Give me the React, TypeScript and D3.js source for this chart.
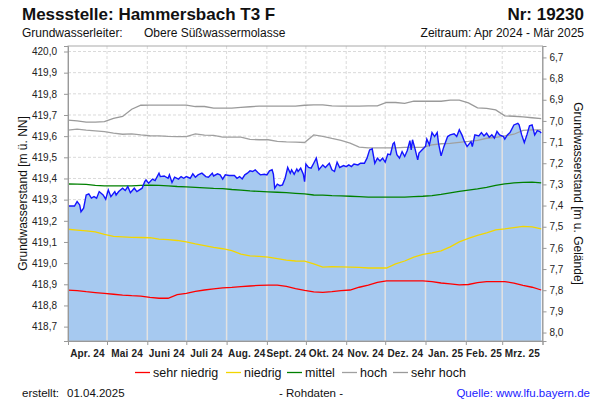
import React, { useEffect, useRef } from 'react';
import * as d3 from 'd3';

// Zeitraum und Geländehöhe
const START = new Date(2024, 3, 1);
const ENDE = new Date(2025, 3, 1);
const gelaende = 426.672;

const monatsLabels = ['Apr. 24', 'Mai 24', 'Juni 24', 'Juli 24', 'Aug. 24', 'Sept. 24', 'Okt. 24', 'Nov. 24', 'Dez. 24', 'Jan. 25', 'Feb. 25', 'Mrz. 25'];
const yTicks = [418.7, 418.8, 418.9, 419.0, 419.1, 419.2, 419.3, 419.4, 419.5, 419.6, 419.7, 419.8, 419.9, 420.0];
const yTicksRechts = [6.7, 6.8, 6.9, 7.0, 7.1, 7.2, 7.3, 7.4, 7.5, 7.6, 7.7, 7.8, 7.9, 8.0];

// Kennlinien, wöchentlich ab 01.04.2024
const sehrHoch = [419.676, 419.672, 419.666, 419.666, 419.669, 419.684, 419.693, 419.727, 419.746, 419.747,
  419.747, 419.747, 419.747, 419.747, 419.740, 419.740, 419.732, 419.732, 419.732, 419.736,
  419.739, 419.742, 419.742, 419.742, 419.742, 419.742, 419.746, 419.748, 419.748, 419.743,
  419.742, 419.742, 419.742, 419.743, 419.743, 419.759, 419.759, 419.755, 419.765, 419.765,
  419.765, 419.765, 419.770, 419.770, 419.757, 419.734, 419.731, 419.724, 419.696, 419.694,
  419.691, 419.687, 419.683];
const hoch = [419.628, 419.633, 419.628, 419.625, 419.621, 419.614, 419.609, 419.611, 419.606, 419.602,
  419.601, 419.599, 419.598, 419.598, 419.611, 419.605, 419.604, 419.595, 419.595, 419.595,
  419.585, 419.583, 419.583, 419.575, 419.573, 419.572, 419.570, 419.606, 419.599, 419.589,
  419.580, 419.567, 419.548, 419.545, 419.545, 419.545, 419.545, 419.547, 419.547, 419.547,
  419.559, 419.564, 419.566, 419.571, 419.575, 419.580, 419.590, 419.594, 419.601, 419.609,
  419.627, 419.630, 419.630];
const mittel = [419.374, 419.373, 419.372, 419.367, 419.365, 419.365, 419.365, 419.365, 419.367, 419.368,
  419.367, 419.365, 419.362, 419.360, 419.358, 419.356, 419.353, 419.352, 419.348, 419.345,
  419.341, 419.339, 419.337, 419.335, 419.333, 419.330, 419.327, 419.322, 419.321, 419.319,
  419.318, 419.316, 419.314, 419.312, 419.312, 419.312, 419.312, 419.312, 419.314, 419.316,
  419.319, 419.325, 419.332, 419.339, 419.345, 419.351, 419.358, 419.367, 419.374, 419.379,
  419.382, 419.383, 419.379];
const niedrig = [419.160, 419.156, 419.152, 419.148, 419.136, 419.126, 419.124, 419.122, 419.121, 419.120,
  419.113, 419.111, 419.107, 419.100, 419.091, 419.083, 419.074, 419.068, 419.059, 419.043,
  419.034, 419.032, 419.028, 419.021, 419.014, 419.010, 419.009, 418.996, 418.981, 418.983,
  418.982, 418.981, 418.980, 418.977, 418.977, 418.977, 418.996, 419.010, 419.028, 419.041,
  419.048, 419.058, 419.077, 419.100, 419.117, 419.131, 419.143, 419.157, 419.162, 419.168,
  419.174, 419.171, 419.162];
const sehrNiedrig = [418.872, 418.870, 418.865, 418.861, 418.857, 418.853, 418.849, 418.846, 418.844, 418.838,
  418.834, 418.834, 418.851, 418.857, 418.866, 418.873, 418.878, 418.883, 418.885, 418.889,
  418.892, 418.895, 418.896, 418.896, 418.890, 418.879, 418.871, 418.864, 418.862, 418.865,
  418.870, 418.873, 418.886, 418.896, 418.909, 418.916, 418.916, 418.916, 418.916, 418.916,
  418.913, 418.906, 418.902, 418.897, 418.899, 418.908, 418.913, 418.913, 418.913, 418.906,
  418.895, 418.886, 418.873];

// Messwerte (Tage seit 01.04.2024)
const messTage = [0, 5, 7, 9, 10, 12, 14, 16, 18, 20,
  22, 24, 27, 29, 31, 33, 36, 37, 39, 42,
  44, 46, 48, 51, 53, 55, 57, 59, 60, 62,
  65, 67, 70, 71, 74, 77, 78, 80, 82, 85,
  87, 89, 91, 94, 96, 98, 100, 103, 106, 108,
  111, 112, 115, 117, 119, 121, 124, 128, 130, 132,
  134, 136, 138, 140, 142, 144, 146, 148, 151, 153,
  155, 157, 158, 159, 161, 163, 165, 167, 169, 171,
  172, 174, 176, 177, 179, 181, 182, 183, 185, 187,
  189, 191, 193, 196, 198, 201, 203, 205, 207, 209,
  212, 214, 216, 218, 220, 223, 225, 228, 230, 232,
  234, 236, 238, 240, 242, 244, 246, 248, 250, 251,
  253, 255, 257, 259, 261, 263, 264, 265, 267, 269,
  270, 273, 275, 276, 278, 280, 282, 284, 285, 287,
  289, 292, 294, 297, 299, 301, 303, 305, 307, 310,
  311, 313, 316, 318, 320, 322, 324, 326, 328, 330,
  332, 335, 336, 338, 340, 343, 346, 347, 349, 351,
  353, 355, 357, 359, 361, 363, 364];
const messWerte = [419.270, 419.270, 419.291, 419.275, 419.243, 419.260, 419.322, 419.327, 419.307, 419.314,
  419.307, 419.338, 419.322, 419.302, 419.346, 419.314, 419.338, 419.322, 419.338, 419.354,
  419.343, 419.362, 419.333, 419.354, 419.338, 419.346, 419.354, 419.385, 419.393, 419.378,
  419.397, 419.390, 419.425, 419.409, 419.412, 419.401, 419.417, 419.381, 419.406, 419.397,
  419.409, 419.401, 419.409, 419.401, 419.422, 419.406, 419.417, 419.425, 419.409, 419.406,
  419.425, 419.412, 419.422, 419.417, 419.397, 419.417, 419.414, 419.414, 419.401, 419.409,
  419.398, 419.417, 419.425, 419.436, 419.433, 419.441, 419.428, 419.417, 419.420, 419.417,
  419.436, 419.441, 419.420, 419.354, 419.373, 419.366, 419.370, 419.401, 419.452, 419.425,
  419.441, 419.420, 419.445, 419.433, 419.449, 419.420, 419.385, 419.468, 419.452, 419.449,
  419.472, 419.496, 419.441, 419.464, 419.452, 419.472, 419.441, 419.433, 419.477, 419.452,
  419.461, 419.456, 419.464, 419.456, 419.468, 419.464, 419.472, 419.472, 419.496, 419.535,
  419.540, 419.472, 419.496, 419.483, 419.496, 419.477, 419.515, 419.512, 419.564, 419.570,
  419.512, 419.496, 419.527, 419.504, 419.532, 419.579, 419.535, 419.583, 419.539, 419.488,
  419.520, 419.539, 419.551, 419.586, 419.559, 419.617, 419.598, 419.617, 419.567, 419.507,
  419.548, 419.598, 419.606, 419.611, 419.598, 419.630, 419.606, 419.574, 419.551, 419.574,
  419.551, 419.606, 419.601, 419.617, 419.601, 419.614, 419.595, 419.606, 419.591, 419.622,
  419.606, 419.598, 419.586, 419.606, 419.617, 419.653, 419.661, 419.653, 419.606, 419.570,
  419.606, 419.649, 419.653, 419.606, 419.626, 419.622, 419.614];

const legendeNamen = ['sehr niedrig', 'niedrig', 'mittel', 'hoch', 'sehr hoch'];
const farben = ['#ff0000', '#f2d600', '#008000', '#a0a0a0', '#9a9a9a'];

const FONT = '"Liberation Sans", Arial, sans-serif';

const App = () => {
  const ref = useRef<SVGSVGElement>(null);

  useEffect(() => {
    const svg = d3.select(ref.current);
    svg.selectAll('*').remove();

    const left = 68, right = 542.5, top = 46, bottom = 341;
    const x = d3.scaleTime().domain([START, ENDE]).range([left, right]);
    const y = d3.scaleLinear().domain([418.632, 420.026]).range([bottom, top]);
    const yR = d3.scaleLinear().domain([gelaende - 418.632, gelaende - 420.026]).range([bottom, top]);
    const fmt = (d: number) => d3.format('.1f')(d).replace('.', ',');

    const wochen = d3.range(sehrHoch.length).map(i => d3.timeDay.offset(START, 7 * i));
    const monate = d3.timeMonth.range(START, ENDE);
    const mess: [Date, number][] = messTage.map((t, i) => [d3.timeDay.offset(START, t), messWerte[i]]);

    // Gitter
    svg.append('g').selectAll('line').data(yTicks).join('line')
      .attr('x1', left).attr('x2', right)
      .attr('y1', d => y(d)).attr('y2', d => y(d))
      .attr('stroke', '#dadada').attr('stroke-dasharray', '3,2');
    svg.append('g').selectAll('line').data(monate.slice(1)).join('line')
      .attr('x1', d => x(d)).attr('x2', d => x(d))
      .attr('y1', top).attr('y2', bottom)
      .attr('stroke', '#dadada').attr('stroke-dasharray', '3,2');

    // Fläche unter den Messwerten
    const area = d3.area<[Date, number]>()
      .x(d => x(d[0])).y0(bottom).y1(d => y(d[1]));
    svg.append('path').datum(mess).attr('d', area).attr('fill', '#a6c9f0');
    svg.append('clipPath').attr('id', 'fuellung')
      .append('path').datum(mess).attr('d', area);
    svg.append('g').attr('clip-path', 'url(#fuellung)')
      .selectAll('line').data(monate.slice(1)).join('line')
      .attr('x1', d => x(d)).attr('x2', d => x(d))
      .attr('y1', top).attr('y2', bottom)
      .attr('stroke', '#e2e2e2').attr('stroke-width', 1.5);

    // Kennlinien
    const line = d3.line<number>()
      .x((d, i) => x(wochen[i])).y(d => y(d));
    [sehrNiedrig, niedrig, mittel, hoch, sehrHoch].forEach((reihe, i) => {
      svg.append('path').datum(reihe).attr('d', line)
        .attr('fill', 'none').attr('stroke', farben[i]).attr('stroke-width', 1.3);
    });

    // Messwerte
    const messLine = d3.line<[Date, number]>().x(d => x(d[0])).y(d => y(d[1]));
    svg.append('path').datum(mess).attr('d', messLine)
      .attr('fill', 'none').attr('stroke', '#1414ff').attr('stroke-width', 1.4);

    // Rahmen
    svg.append('rect').attr('x', left).attr('y', top)
      .attr('width', right - left).attr('height', bottom - top)
      .attr('fill', 'none').attr('stroke', '#aaa');

    const styleAxis = (g: d3.Selection<SVGGElement, unknown, null, undefined>) => {
      g.select('.domain').attr('stroke', '#999');
      g.selectAll('.tick line').attr('stroke', '#999');
      g.selectAll('.tick text').attr('fill', '#222').style('font-family', FONT).style('font-size', '10px');
    };

    svg.append('g').attr('transform', `translate(${left},0)`)
      .call(d3.axisLeft(y).tickValues(yTicks).tickSize(4).tickPadding(7).tickFormat(d => fmt(+d)))
      .call(styleAxis);
    svg.append('g').attr('transform', `translate(${right},0)`)
      .call(d3.axisRight(yR).tickValues(yTicksRechts).tickSize(4).tickPadding(3).tickFormat(d => fmt(+d)))
      .call(styleAxis);
    svg.append('g').attr('transform', `translate(0,${bottom})`)
      .call(d3.axisBottom(x).tickValues([...monate, ENDE]).tickSize(4).tickFormat(() => ''))
      .call(styleAxis);

    // Monatsbeschriftung
    svg.append('g').selectAll('text').data(monate).join('text')
      .attr('x', (d, i) => (x(d) + x(i < monate.length - 1 ? monate[i + 1] : ENDE)) / 2)
      .attr('y', 356.5)
      .attr('text-anchor', 'middle')
      .style('font-family', FONT).style('font-size', '10px').style('font-weight', 'bold')
      .style('letter-spacing', '0.2px').attr('fill', '#222')
      .text((d, i) => monatsLabels[i]);

    const text = (tx: number, ty: number, s: string, size: number, anchor = 'start', weight = 'normal', fill = '#111') =>
      svg.append('text').attr('x', tx).attr('y', ty).attr('text-anchor', anchor)
        .style('font-family', FONT).style('font-size', `${size}px`).style('font-weight', weight)
        .attr('fill', fill).text(s);

    text(22, 20, 'Messstelle: Hammersbach T3 F', 17, 'start', 'bold');
    text(584, 20, 'Nr: 19230', 17, 'end', 'bold');
    text(22, 36.5, 'Grundwasserleiter:', 12);
    text(144, 36.5, 'Obere Süßwassermolasse', 12);
    text(584, 36.5, 'Zeitraum: Apr 2024 - Mär 2025', 12, 'end');

    svg.append('text').attr('transform', `translate(27,${(top + bottom) / 2}) rotate(-90)`)
      .attr('text-anchor', 'middle').style('font-family', FONT).style('font-size', '12px')
      .attr('fill', '#111').text('Grundwasserstand [m ü. NN]');
    svg.append('text').attr('transform', `translate(574,${(top + bottom) / 2}) rotate(90)`)
      .attr('text-anchor', 'middle').style('font-family', FONT).style('font-size', '12px')
      .attr('fill', '#111').text('Grundwasserstand [m u. Gelände]');

    // Legende
    const legX = [135, 226, 287, 342, 393];
    legendeNamen.forEach((n, i) => {
      svg.append('line').attr('x1', legX[i]).attr('x2', legX[i] + 15)
        .attr('y1', 372.5).attr('y2', 372.5)
        .attr('stroke', farben[i]).attr('stroke-width', 1.3);
      text(legX[i] + 18, 377, n, 12.5);
    });

    // Fußzeile
    text(22, 397, 'erstellt:', 11.5);
    text(67, 397, '01.04.2025', 11.5);
    text(311, 397, '- Rohdaten -', 11.5, 'middle');
    text(590, 397, 'Quelle: www.lfu.bayern.de', 11.5, 'end', 'normal', '#1a1aff');
  }, []);

  return <svg ref={ref} width={600} height={400} style={{ position: 'absolute', left: 0, top: 0, background: '#fff' }} />;
};

export default App;
